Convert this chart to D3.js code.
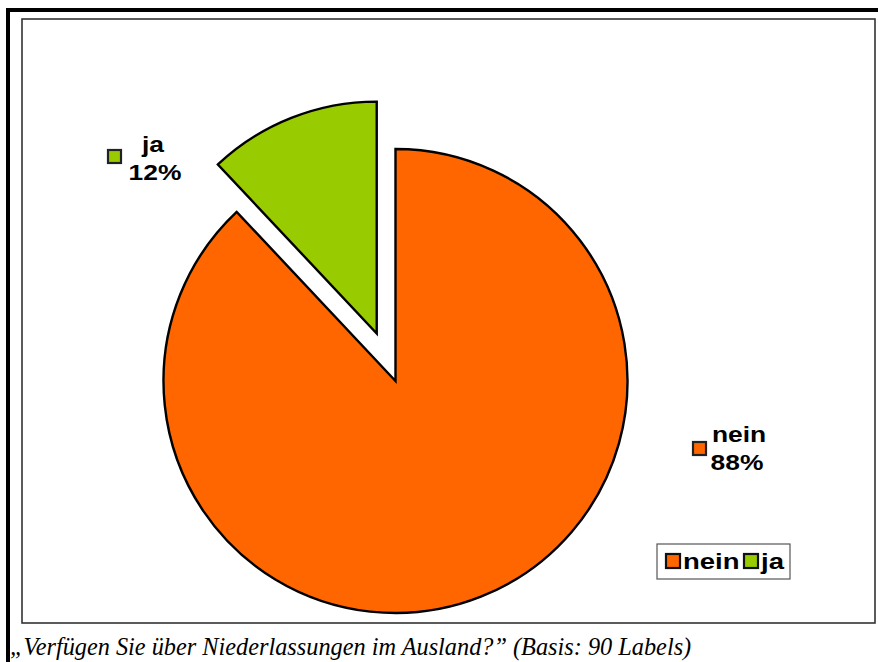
<!DOCTYPE html>
<html>
<head>
<meta charset="utf-8">
<script src="https://cdn.jsdelivr.net/npm/d3@7"></script>
<style>
  body { margin: 0; background: #fff; }
  svg { display: block; }
</style>
</head>
<body>
<div id="canvas"></div>
<script>
// data
const categories = ["nein", "ja"];
const values = [88, 12];
const percentLabels = ["88%", "12%"];
const sliceColors = ["#ff6600", "#99cc00"];
const caption = "\u201EVerfügen Sie über Niederlassungen im Ausland?\u201D (Basis: 90 Labels)";

const width = 878;
const height = 662;
const cx = 395.5, cy = 381, radius = 232;
const explode = [0, 51];           // offset of each slice from the centre
const stretch = 1.2;               // labels look horizontally stretched

const svg = d3.select("#canvas").append("svg")
    .attr("width", width)
    .attr("height", height);

// outer frame (only top/left visible)
svg.append("rect")
    .attr("x", 8).attr("y", 10)
    .attr("width", 900).attr("height", 700)
    .attr("fill", "none")
    .attr("stroke", "#000")
    .attr("stroke-width", 4);

// plot area
svg.append("rect")
    .attr("x", 22).attr("y", 19)
    .attr("width", 853).attr("height", 604)
    .attr("fill", "#fff")
    .attr("stroke", "#333")
    .attr("stroke-width", 1.6);

const pie = d3.pie().sort(null).value(d => d)(values);
const arc = d3.arc().innerRadius(0).outerRadius(radius);

const g = svg.append("g").attr("transform", `translate(${cx}, ${cy})`);

g.selectAll("path.slice").data(pie).enter().append("path")
    .attr("class", "slice")
    .attr("d", arc)
    .attr("fill", (d, i) => sliceColors[i])
    .attr("stroke", "#000")
    .attr("stroke-width", 2.4)
    .attr("stroke-linejoin", "miter")
    .attr("transform", (d, i) => {
        const a = (d.startAngle + d.endAngle) / 2;
        return `translate(${Math.sin(a) * explode[i]}, ${-Math.cos(a) * explode[i]})`;
    });

// data labels (key square + name + percent)
const labelPos = [
    {x: 739, y: 442, kx: 692, ky: 441},
    {x: 153, y: 152, kx: 107, ky: 149}
];

const labels = svg.selectAll("g.lbl").data(categories).enter().append("g")
    .attr("class", "lbl");

labels.append("rect")
    .attr("x", (d, i) => labelPos[i].kx + 1)
    .attr("y", (d, i) => labelPos[i].ky + 1)
    .attr("width", 13).attr("height", 13)
    .attr("fill", (d, i) => sliceColors[i])
    .attr("stroke", "#222")
    .attr("stroke-width", 2.2);

labels.append("text")
    .attr("transform", (d, i) => `translate(${labelPos[i].x}, ${labelPos[i].y}) scale(${stretch}, 1)`)
    .attr("text-anchor", "middle")
    .style("font-family", "Arial, 'Liberation Sans', sans-serif")
    .style("font-weight", "bold")
    .style("font-size", "22px")
    .text(d => d);

labels.append("text")
    .attr("transform", (d, i) => `translate(${labelPos[i].x + (i ? 2 : -2)}, ${labelPos[i].y + 28}) scale(${stretch}, 1)`)
    .attr("text-anchor", "middle")
    .style("font-family", "Arial, 'Liberation Sans', sans-serif")
    .style("font-weight", "bold")
    .style("font-size", "22px")
    .text((d, i) => percentLabels[i]);

// legend
const legend = svg.append("g").attr("transform", "translate(657, 544)");
legend.append("rect")
    .attr("width", 133).attr("height", 35)
    .attr("fill", "#fff")
    .attr("stroke", "#555")
    .attr("stroke-width", 1.2);

const legendX = [8, 86];
const items = legend.selectAll("g.item").data(categories).enter().append("g")
    .attr("class", "item")
    .attr("transform", (d, i) => `translate(${legendX[i]}, 9)`);

items.append("rect")
    .attr("x", 1).attr("y", 1)
    .attr("width", 14).attr("height", 14)
    .attr("fill", (d, i) => sliceColors[i])
    .attr("stroke", "#111")
    .attr("stroke-width", 2.2);

items.append("text")
    .attr("transform", `translate(18, 15.5) scale(1.25, 1)`)
    .style("font-family", "Arial, 'Liberation Sans', sans-serif")
    .style("font-weight", "bold")
    .style("font-size", "22px")
    .text(d => d);

// caption
svg.append("text")
    .attr("x", 10)
    .attr("y", 655)
    .style("font-family", "'Times New Roman', 'Liberation Serif', serif")
    .style("font-style", "italic")
    .style("font-size", "24.3px")
    .text(caption);
</script>
</body>
</html>
